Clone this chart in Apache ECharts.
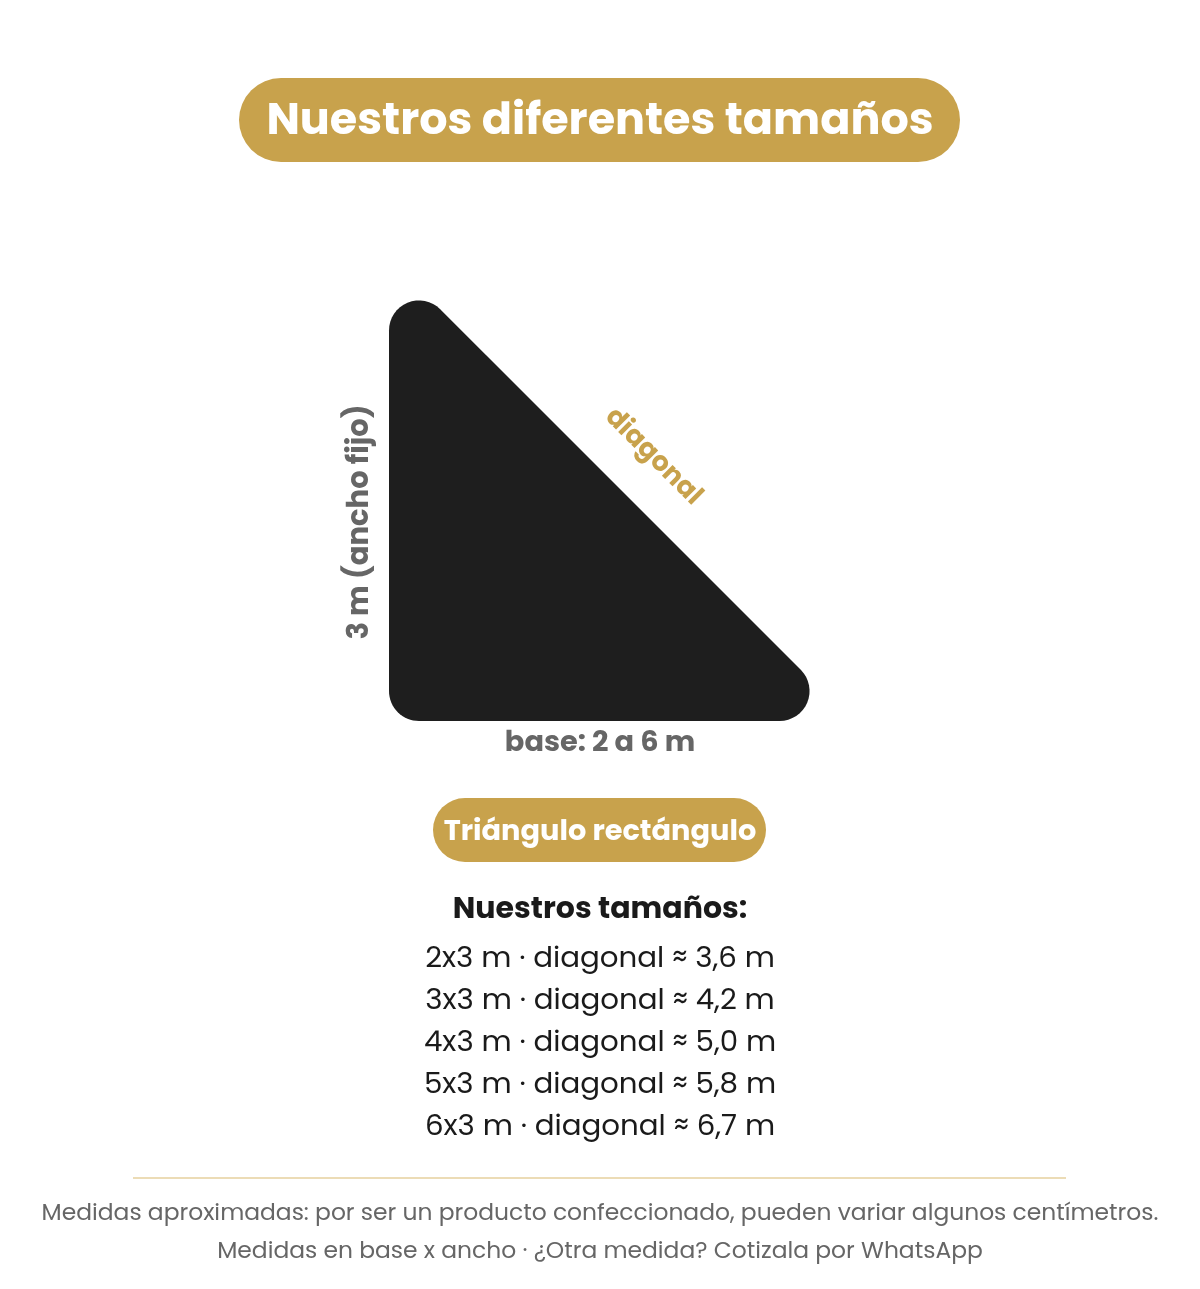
<!DOCTYPE html>
<html><head><meta charset="utf-8">
<script src="https://cdn.jsdelivr.net/npm/echarts@6/dist/echarts.min.js"></script>
<style>html,body{margin:0;background:#fff}#c{width:1200px;height:1289px}</style>
</head><body><div id="c"></div>
<script>
const title = 'Nuestros diferentes tamaños';
const shapeName = 'Triángulo rectángulo';
const bases = [2, 3, 4, 5, 6];
const ancho = 3;
const diagonals = ['3,6', '4,2', '5,0', '5,8', '6,7'];
const footer = ['Medidas aproximadas: por ser un producto confeccionado, pueden variar algunos centímetros.',
  'Medidas en base x ancho · ¿Otra medida? Cotizala por WhatsApp'];

const F = 'Poppins, Inter, "Noto Sans", sans-serif';
const gold = '#C8A24C';

function triPoints(){
  const r = 30, s2 = Math.SQRT2, xL = 389, yA = 258, yB = 721, k = xL - yA;
  const corners = [
    {cx: xL + r, cy: yA + r + r*s2, a0: Math.PI, a1: 7*Math.PI/4},
    {cx: yB - r + k - r*s2, cy: yB - r, a0: -Math.PI/4, a1: Math.PI/2},
    {cx: xL + r, cy: yB - r, a0: Math.PI/2, a1: Math.PI}
  ];
  const pts = [];
  corners.forEach(c => {
    for (let i = 0; i <= 16; i++) {
      const a = c.a0 + (c.a1 - c.a0) * i / 16;
      pts.push([c.cx + r*Math.cos(a), c.cy + r*Math.sin(a)]);
    }
  });
  return pts;
}

const T = (x,y,text,fill,font,rot) => ({type:'text', x, y, rotation:rot||0, style:{text, fill, font:font+' '+F, textAlign:'center', textVerticalAlign:'middle'}});
const g = [];
g.push({type:'rect', shape:{x:239,y:78,width:721,height:84,r:42}, style:{fill:gold}});
g.push(T(600,123,title,'#fff','bold 44.5px'));
g.push({type:'polygon', shape:{points:triPoints()}, style:{fill:'#1e1e1e'}});
g.push(T(653,457,'diagonal',gold,'bold 27px',-Math.PI/4));
g.push(T(361,522,ancho+' m (ancho fijo)','#666','bold 29px',Math.PI/2));
g.push(T(600,744,'base: '+bases[0]+' a '+bases[bases.length-1]+' m','#666','bold 28.8px'));
g.push({type:'rect', shape:{x:433,y:798,width:333,height:64,r:32}, style:{fill:gold}});
g.push(T(600,833,shapeName,'#fff','bold 28.8px'));
g.push(T(600,910,'Nuestros tamaños:','#1a1a1a','bold 30px'));
bases.forEach((b,i)=>{
  g.push(T(600,960+i*42,b+'x'+ancho+' m · diagonal ≈ '+diagonals[i]+' m','#1a1a1a','29.3px'));
});
g.push({type:'line', shape:{x1:133,y1:1178,x2:1066,y2:1178}, style:{stroke:'#ecdcb6', lineWidth:2}});
footer.forEach((t,i)=>{
  g.push(T(600,1214+i*38,t,'#666','23.4px'));
});
const chart = echarts.init(document.getElementById('c'));
chart.setOption({backgroundColor:'#fff', graphic:{elements:g}});
</script></body></html>
